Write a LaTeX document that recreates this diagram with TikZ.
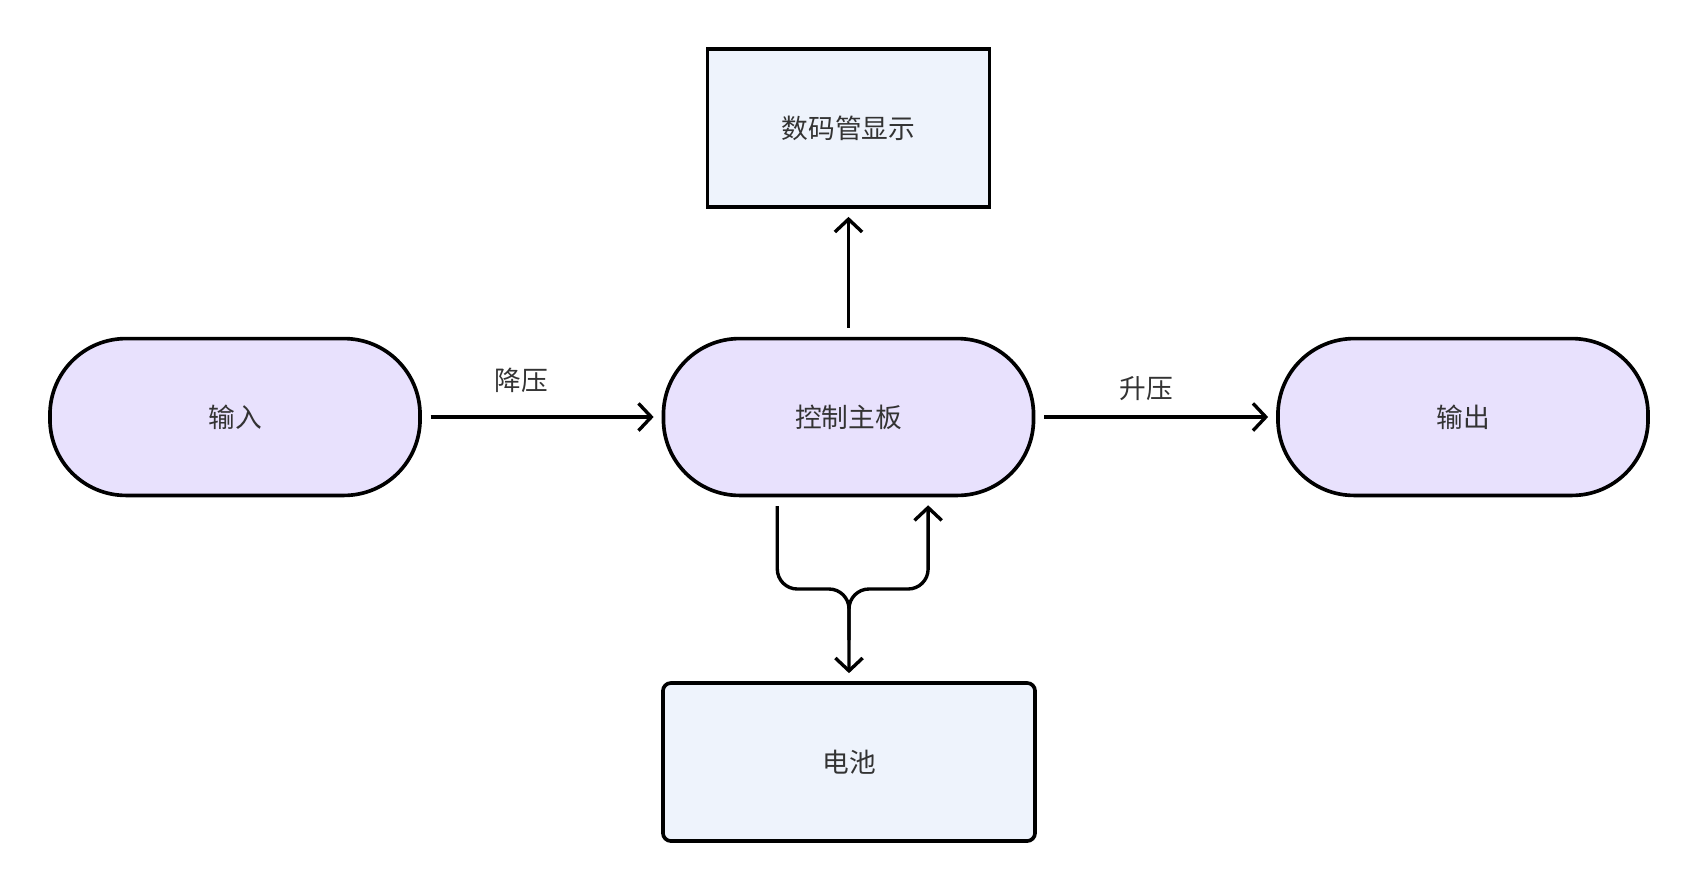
\documentclass[tikz,border=0pt]{standalone}
\usepackage{fontspec}
\newfontfamily\cjk{Noto Sans CJK SC}
\usepackage{tikz}
\usetikzlibrary{arrows.meta}

\definecolor{lavender}{HTML}{E8E1FD}
\definecolor{paleblue}{HTML}{EEF3FC}
\definecolor{inkgrey}{HTML}{333333}

\begin{document}
\begin{tikzpicture}[
  x=0.025cm, y=-0.025cm,
  every node/.style={font=\cjk\fontsize{19}{23}\selectfont, text=inkgrey},
  stadium/.style={rectangle, draw, line width=2.6pt, fill=lavender,
    rounded corners=1.9cm, minimum width=9.25cm, minimum height=3.92cm},
  panel/.style={rectangle, draw, line width=2.6pt, fill=paleblue},
  link/.style={line width=2.4pt, ->, shorten >=0.2cm, shorten <=0.22cm},
  >={Straight Barb[length=0.32cm,width=0.68cm]}
]
\useasboundingbox (0,0) rectangle (1698,890);

\node[stadium] (input) at (235,417) {输入};
\node[stadium] (ctrl) at (848.5,417) {控制主板};
\node[stadium] (output) at (1463,417) {输出};
\node[panel, minimum width=7.05cm, minimum height=3.95cm] (disp) at (848.5,128) {数码管显示};
\node[panel, rounded corners=0.2cm, minimum width=9.3cm, minimum height=3.95cm] (batt) at (849,762) {电池};

\draw[link] (input) -- (ctrl);
\draw[link] (ctrl) -- (output);
\draw[link] (ctrl) -- (disp);
\node (down) at (521,380) {降压};
\node (up) at (1146,389) {升压};

% battery loop
\draw[link, rounded corners=0.5cm, shorten <=0pt]
  ([xshift=-1.78cm,yshift=-0.22cm]ctrl.south) |- (849,589) -- (batt.north);
\draw[link, rounded corners=0.5cm, shorten <=0pt]
  (849,640) -- (849,589) -| ([xshift=1.99cm]ctrl.south);
\end{tikzpicture}
\end{document}
